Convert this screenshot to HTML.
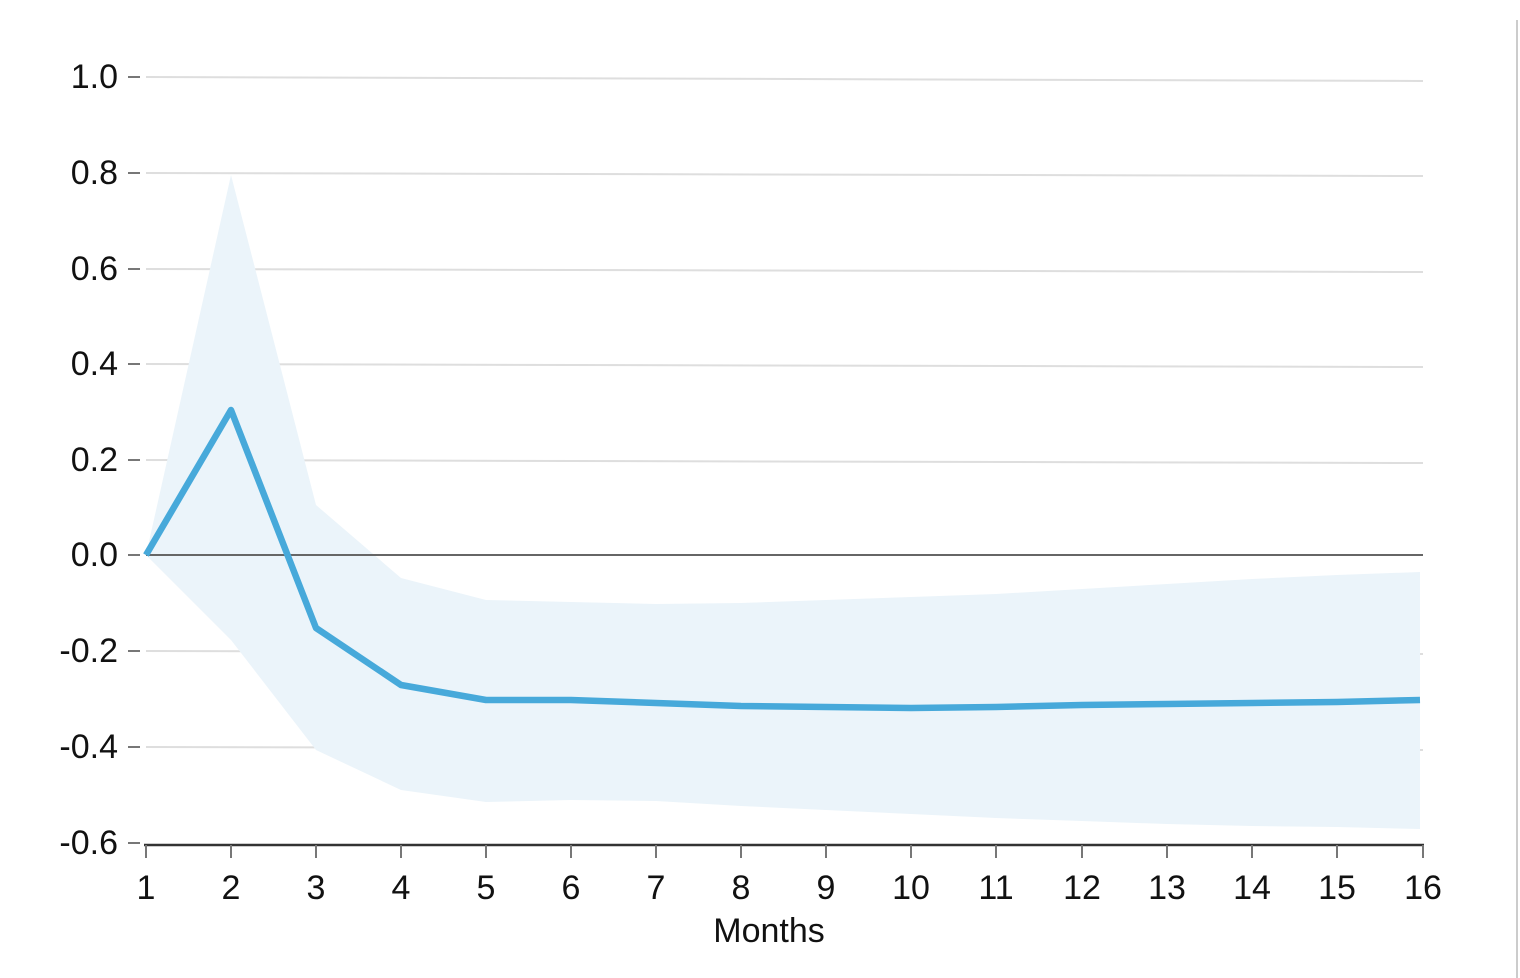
<!DOCTYPE html>
<html><head><meta charset="utf-8"><style>
html,body{margin:0;padding:0;background:#fff;width:1520px;height:978px;overflow:hidden}
text{font-family:"Liberation Sans",Arial,sans-serif;fill:#111}
</style></head><body>
<svg width="1520" height="978" xmlns="http://www.w3.org/2000/svg">
<line x1="1517" y1="20" x2="1517" y2="978" stroke="#ccc" stroke-width="2"/>
<g stroke="#dedede" stroke-width="2">
<line x1="146" y1="77" x2="1423" y2="81"/>
<line x1="146" y1="173" x2="1423" y2="176"/>
<line x1="146" y1="269" x2="1423" y2="272"/>
<line x1="146" y1="364" x2="1423" y2="367"/>
<line x1="146" y1="460" x2="1423" y2="463"/>
<line x1="146" y1="651" x2="1423" y2="654"/>
<line x1="146" y1="747" x2="1423" y2="750"/>
</g>
<polygon fill="#ebf4fa" points="146,555 231,175 316,505 401,578 486,600 571,602 656,604 741,603 826,600 911,597 996,594 1082,589 1167,584 1252,579 1337,575 1420,572 1420,829 1337,827 1252,826 1167,824 1082,821 996,818 911,814 826,810 741,806 656,801 571,800 486,802 401,790 316,750 231,640"/>
<line x1="146" y1="555" x2="1423" y2="555" stroke="#666" stroke-width="2"/>
<polyline fill="none" stroke="#47a9da" stroke-width="6.5" stroke-linejoin="round" points="146,555 231,410 316,628 401,685 486,700 571,700 656,703 741,706 826,707 911,708 996,707 1082,705 1167,704 1252,703 1337,702 1420,700"/>
<line x1="144" y1="845" x2="1424" y2="845" stroke="#333" stroke-width="2.5"/>
<g stroke="#777" stroke-width="2">
<line x1="128" y1="77" x2="140" y2="77"/><line x1="128" y1="173" x2="140" y2="173"/>
<line x1="128" y1="269" x2="140" y2="269"/><line x1="128" y1="364" x2="140" y2="364"/>
<line x1="128" y1="460" x2="140" y2="460"/><line x1="128" y1="555" x2="140" y2="555"/>
<line x1="128" y1="651" x2="140" y2="651"/><line x1="128" y1="747" x2="140" y2="747"/>
<line x1="128" y1="843" x2="140" y2="843"/>
<line x1="146" y1="845" x2="146" y2="858"/><line x1="231" y1="845" x2="231" y2="858"/>
<line x1="316" y1="845" x2="316" y2="858"/><line x1="401" y1="845" x2="401" y2="858"/>
<line x1="486" y1="845" x2="486" y2="858"/><line x1="571" y1="845" x2="571" y2="858"/>
<line x1="656" y1="845" x2="656" y2="858"/><line x1="741" y1="845" x2="741" y2="858"/>
<line x1="826" y1="845" x2="826" y2="858"/><line x1="911" y1="845" x2="911" y2="858"/>
<line x1="996" y1="845" x2="996" y2="858"/><line x1="1082" y1="845" x2="1082" y2="858"/>
<line x1="1167" y1="845" x2="1167" y2="858"/><line x1="1252" y1="845" x2="1252" y2="858"/>
<line x1="1337" y1="845" x2="1337" y2="858"/><line x1="1423" y1="845" x2="1423" y2="858"/>
</g>
<g font-size="34" text-anchor="end">
<text x="118" y="88">1.0</text><text x="118" y="184">0.8</text>
<text x="118" y="280">0.6</text><text x="118" y="375">0.4</text>
<text x="118" y="471">0.2</text><text x="118" y="566">0.0</text>
<text x="118" y="662">-0.2</text><text x="118" y="758">-0.4</text>
<text x="118" y="854">-0.6</text>
</g>
<g font-size="34" text-anchor="middle">
<text x="146" y="899">1</text><text x="231" y="899">2</text><text x="316" y="899">3</text>
<text x="401" y="899">4</text><text x="486" y="899">5</text><text x="571" y="899">6</text>
<text x="656" y="899">7</text><text x="741" y="899">8</text><text x="826" y="899">9</text>
<text x="911" y="899">10</text><text x="996" y="899">11</text><text x="1082" y="899">12</text>
<text x="1167" y="899">13</text><text x="1252" y="899">14</text><text x="1337" y="899">15</text>
<text x="1423" y="899">16</text>
<text x="769" y="942">Months</text>
</g>
</svg>
</body></html>
